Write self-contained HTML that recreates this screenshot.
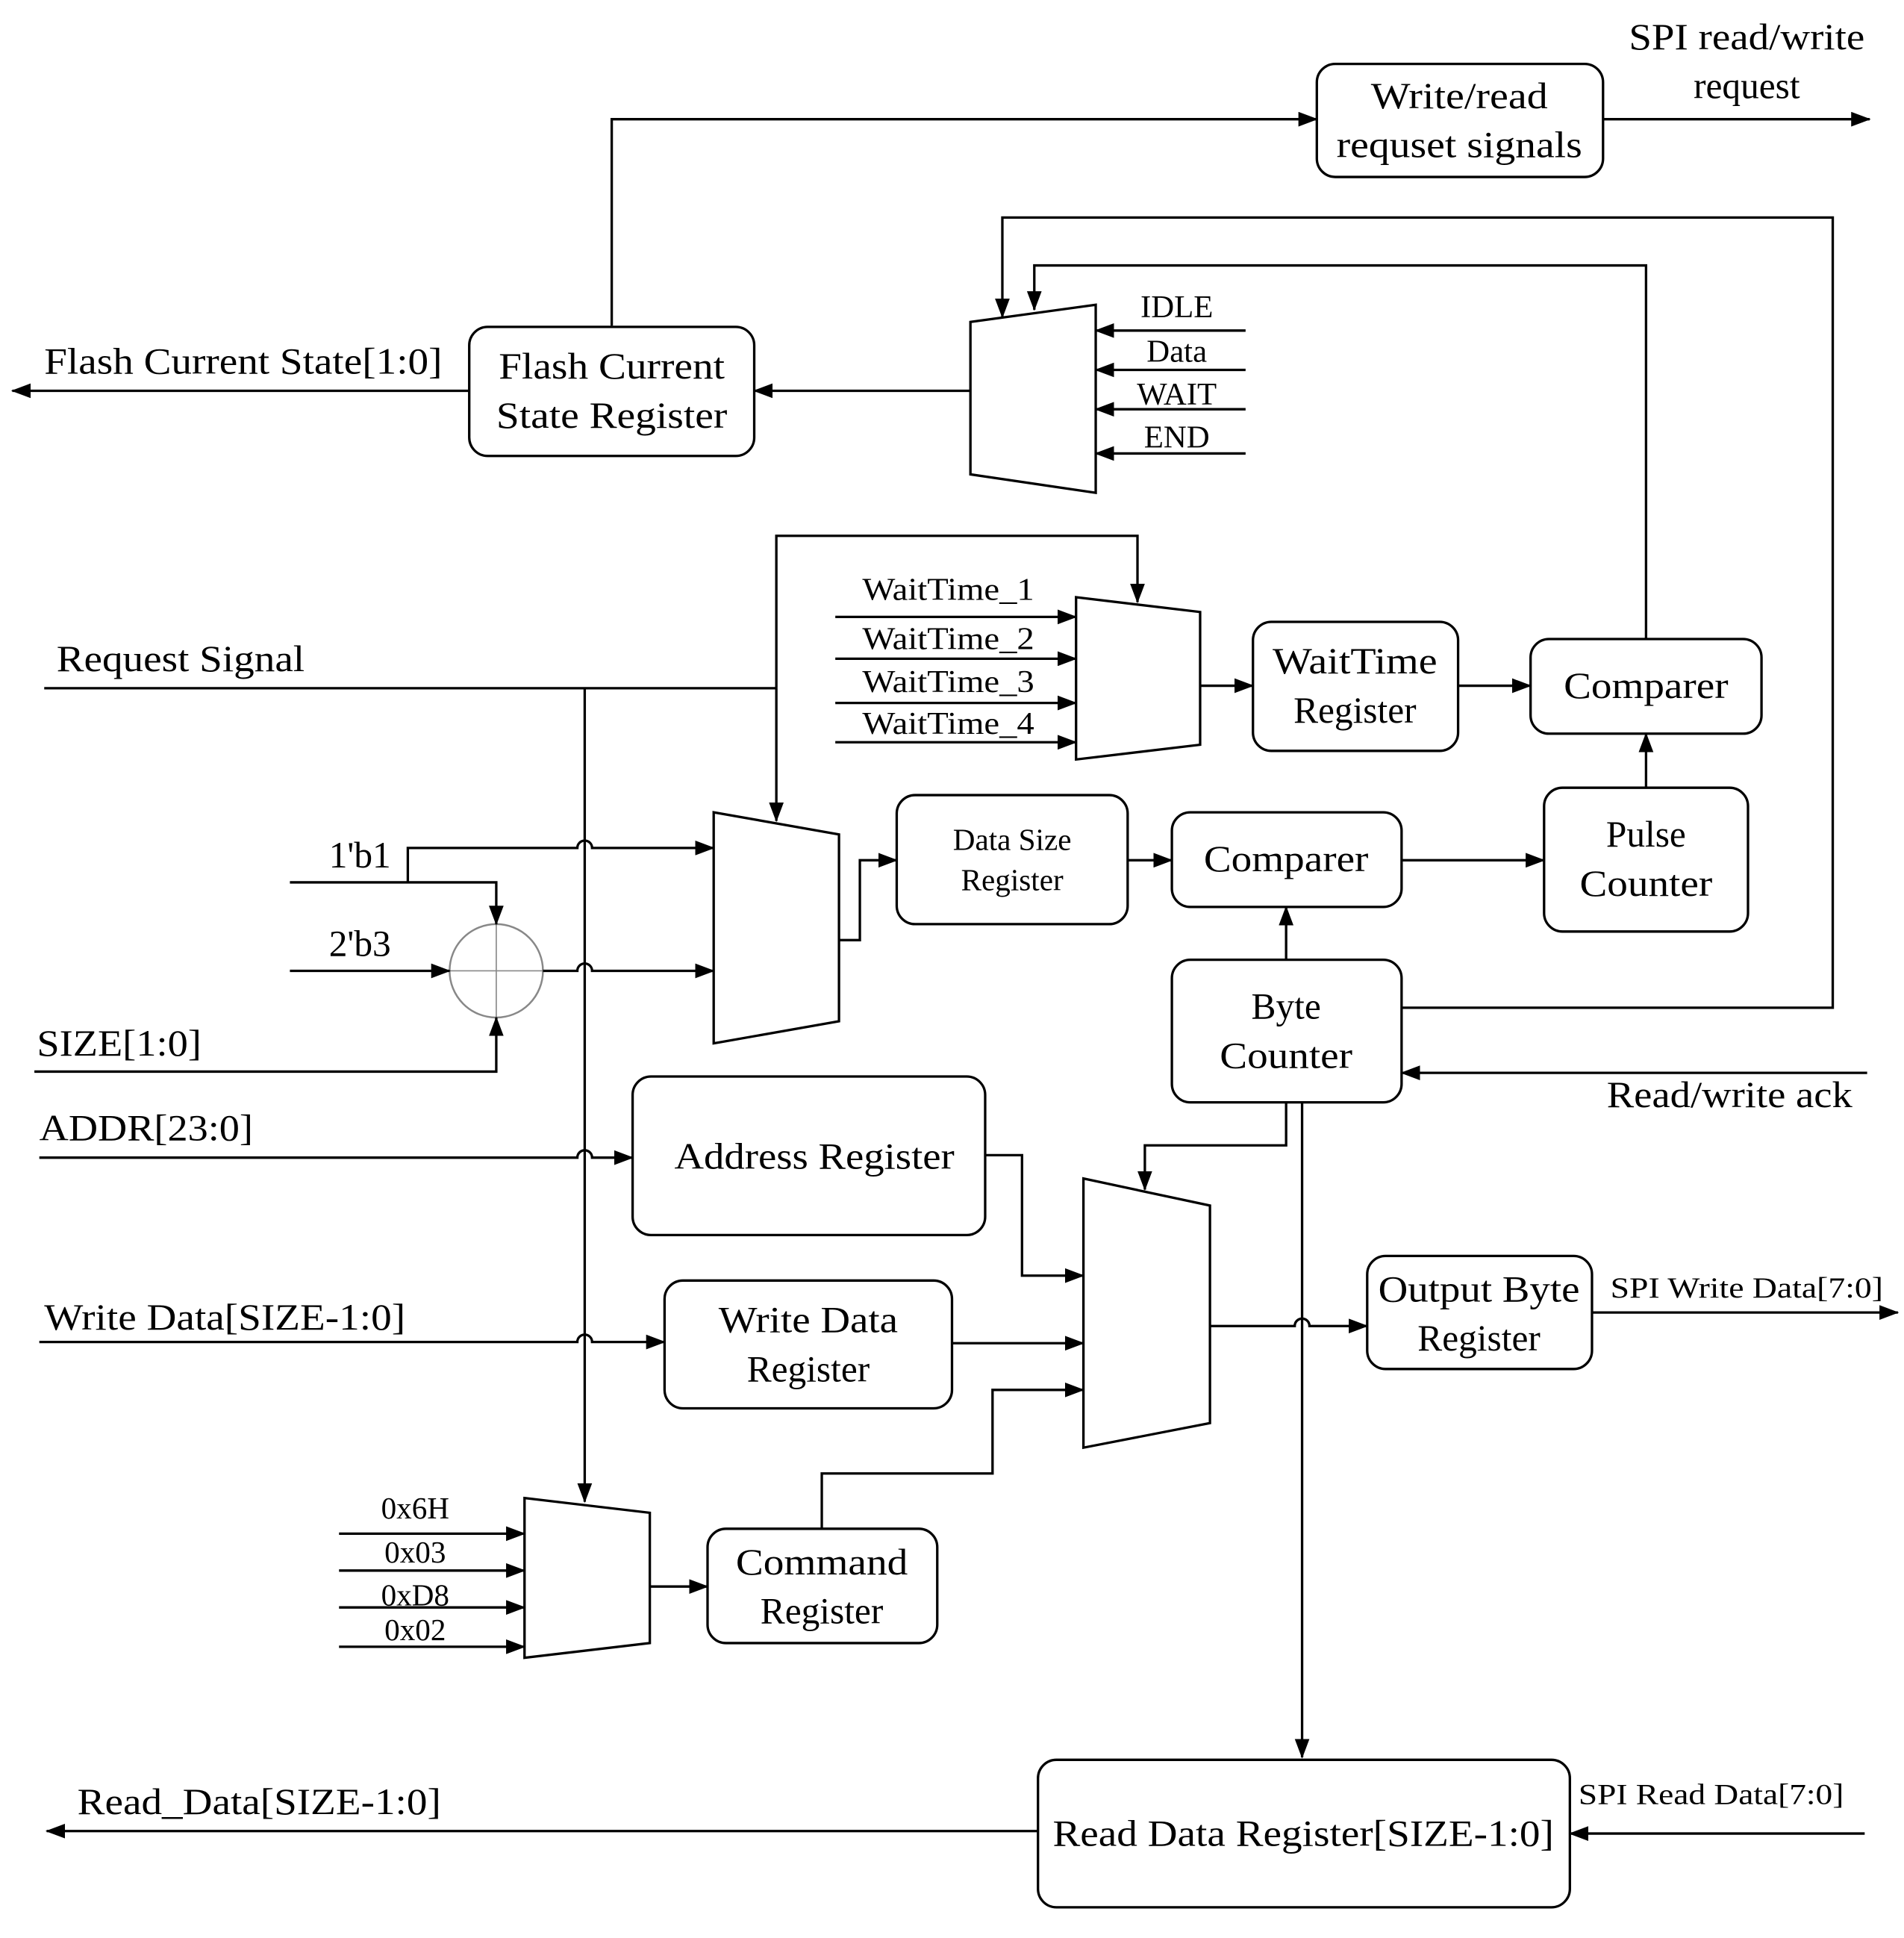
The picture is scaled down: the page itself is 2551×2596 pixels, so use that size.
<!DOCTYPE html>
<html><head><style>html,body{margin:0;padding:0;background:#fff}svg{display:block}</style></head><body>
<svg width="2551" height="2596" viewBox="0 0 1550 1577" preserveAspectRatio="none" xmlns="http://www.w3.org/2000/svg">
<defs>
<marker id="b" markerWidth="16" markerHeight="12" refX="15" refY="6" orient="auto" markerUnits="userSpaceOnUse"><path d="M0,0 L16,6 L0,12 z"/></marker></defs>
<g fill="none" stroke="#000" stroke-width="2">
<rect x="1072" y="52" width="233" height="92" rx="15"/>
<rect x="382" y="266" width="232" height="105" rx="15"/>
<rect x="1020" y="506" width="167" height="105" rx="15"/>
<rect x="1246" y="520" width="188" height="77" rx="15"/>
<rect x="1257" y="641" width="166" height="117" rx="15"/>
<rect x="730" y="647" width="188" height="105" rx="15"/>
<rect x="954" y="661" width="187" height="77" rx="15"/>
<rect x="954" y="781" width="187" height="116" rx="15"/>
<rect x="515" y="876" width="287" height="129" rx="15"/>
<rect x="541" y="1042" width="234" height="104" rx="15"/>
<rect x="576" y="1244" width="187" height="93" rx="15"/>
<rect x="1113" y="1022" width="183" height="92" rx="15"/>
<rect x="845" y="1432" width="433" height="120" rx="15"/>
<polygon points="790,262 892,248 892,401 790,386"/>
<polygon points="876,486 977,498 977,606 876,618"/>
<polygon points="581,661 683,679 683,831 581,849"/>
<polygon points="882,959 985,981 985,1158 882,1178"/>
<polygon points="427,1219 529,1231 529,1337 427,1349"/>
<circle cx="404" cy="790" r="38" stroke="#888" stroke-width="1.5"/>
<path d="M366,790 H442 M404,752 V828" stroke="#888" stroke-width="1"/>
<path d="M36,560 H632"/>
</g>
<g fill="none" stroke="#000" stroke-width="2" marker-end="url(#b)">
<path d="M1305,97 H1522"/>
<path d="M498,265 V97 H1072"/>
<path d="M382,318 H10"/>
<path d="M790,318 H614"/>
<path d="M1014,269 H892"/><path d="M1014,301 H892"/><path d="M1014,333 H892"/><path d="M1014,369 H892"/>
<path d="M1141,820 H1492 V177 H816 V258"/>
<path d="M1340,520 V216 H842 V252"/>
<path d="M632,560 V436 H926 V490"/>
<path d="M632,560 V668"/>
<path d="M476,560 V1222"/>
<path d="M680,502 H876"/><path d="M680,536 H876"/><path d="M680,572 H876"/><path d="M680,604 H876"/>
<path d="M977,558 H1020"/>
<path d="M1187,558 H1246"/>
<path d="M1340,641 V597"/>
<path d="M236,718 H404 V752"/>
<path d="M332,718 V690 H470 A6,6 0 0 1 482,690 H581"/>
<path d="M236,790 H366"/>
<path d="M442,790 H470 A6,6 0 0 1 482,790 H581"/>
<path d="M28,872 H404 V828"/>
<path d="M683,765 H700 V700 H730"/>
<path d="M918,700 H954"/>
<path d="M1141,700 H1257"/>
<path d="M1047,781 V738"/>
<path d="M1520,873 H1141"/>
<path d="M1047,897 V932 H932 V968"/>
<path d="M1060,897 V1430"/>
<path d="M32,942 H470 A6,6 0 0 1 482,942 H515"/>
<path d="M802,940 H832 V1038 H882"/>
<path d="M32,1092 H470 A6,6 0 0 1 482,1092 H541"/>
<path d="M775,1093 H882"/>
<path d="M669,1244 V1199 H808 V1131 H882"/>
<path d="M276,1248 H427"/><path d="M276,1278 H427"/><path d="M276,1308 H427"/><path d="M276,1340 H427"/>
<path d="M529,1291 H576"/>
<path d="M985,1079 H1054 A6,6 0 0 1 1066,1079 H1113"/>
<path d="M1296,1068 H1545"/>
<path d="M1518,1492 H1278"/>
<path d="M845,1490 H38"/>
</g>
<g font-family="Liberation Serif, serif" font-size="30" fill="#000" text-anchor="middle" dominant-baseline="central" lengthAdjust="spacingAndGlyphs">
<text x="1188" y="78" textLength="144" lengthAdjust="spacingAndGlyphs">Write/read</text><text x="1188" y="118" textLength="200" lengthAdjust="spacingAndGlyphs">requset signals</text>
<text x="1422" y="30" textLength="192" lengthAdjust="spacingAndGlyphs">SPI read/write</text><text x="1422" y="70">request</text>
<text x="498" y="298" textLength="184" lengthAdjust="spacingAndGlyphs">Flash Current</text><text x="498" y="338" textLength="188" lengthAdjust="spacingAndGlyphs">State Register</text>
<text x="36" y="294" text-anchor="start" textLength="324" lengthAdjust="spacingAndGlyphs">Flash Current State[1:0]</text>
<g font-size="26"><text x="958" y="250">IDLE</text><text x="958" y="286">Data</text><text x="958" y="321">WAIT</text><text x="958" y="356">END</text></g>
<text x="46" y="536" text-anchor="start" textLength="202" lengthAdjust="spacingAndGlyphs">Request Signal</text>
<g font-size="26"><text x="772" y="480" textLength="140" lengthAdjust="spacingAndGlyphs">WaitTime_1</text><text x="772" y="520" textLength="140" lengthAdjust="spacingAndGlyphs">WaitTime_2</text><text x="772" y="555" textLength="140" lengthAdjust="spacingAndGlyphs">WaitTime_3</text><text x="772" y="589" textLength="140" lengthAdjust="spacingAndGlyphs">WaitTime_4</text></g>
<text x="1103" y="538" textLength="134" lengthAdjust="spacingAndGlyphs">WaitTime</text><text x="1103" y="578">Register</text>
<text x="1340" y="558" textLength="134" lengthAdjust="spacingAndGlyphs">Comparer</text>
<text x="1340" y="679">Pulse</text><text x="1340" y="719" textLength="108" lengthAdjust="spacingAndGlyphs">Counter</text>
<g font-size="25"><text x="824" y="683">Data Size</text><text x="824" y="716">Register</text></g>
<text x="1047" y="699" textLength="134" lengthAdjust="spacingAndGlyphs">Comparer</text>
<text x="1047" y="819">Byte</text><text x="1047" y="859" textLength="108" lengthAdjust="spacingAndGlyphs">Counter</text>
<text x="293" y="696">1'b1</text><text x="293" y="768">2'b3</text>
<text x="30" y="849" text-anchor="start" textLength="134" lengthAdjust="spacingAndGlyphs">SIZE[1:0]</text>
<text x="32" y="918" text-anchor="start" textLength="174" lengthAdjust="spacingAndGlyphs">ADDR[23:0]</text>
<text x="1408" y="891" textLength="200" lengthAdjust="spacingAndGlyphs">Read/write ack</text>
<text x="663" y="941" textLength="228" lengthAdjust="spacingAndGlyphs">Address Register</text>
<text x="36" y="1072" text-anchor="start" textLength="294" lengthAdjust="spacingAndGlyphs">Write Data[SIZE-1:0]</text>
<text x="658" y="1074" textLength="146" lengthAdjust="spacingAndGlyphs">Write Data</text><text x="658" y="1114">Register</text>
<text x="669" y="1271" textLength="140" lengthAdjust="spacingAndGlyphs">Command</text><text x="669" y="1311">Register</text>
<g font-size="25"><text x="338" y="1227">0x6H</text><text x="338" y="1263">0x03</text><text x="338" y="1298">0xD8</text><text x="338" y="1326">0x02</text></g>
<text x="1204" y="1049" textLength="164" lengthAdjust="spacingAndGlyphs">Output Byte</text><text x="1204" y="1089">Register</text>
<text x="1422" y="1048" font-size="24" textLength="222" lengthAdjust="spacingAndGlyphs">SPI Write Data[7:0]</text>
<text x="1061" y="1492" textLength="408" lengthAdjust="spacingAndGlyphs">Read Data Register[SIZE-1:0]</text>
<text x="1393" y="1460" font-size="24" textLength="216" lengthAdjust="spacingAndGlyphs">SPI Read Data[7:0]</text>
<text x="63" y="1466" text-anchor="start" textLength="296" lengthAdjust="spacingAndGlyphs">Read_Data[SIZE-1:0]</text>
</g>
</svg>
</body></html>
